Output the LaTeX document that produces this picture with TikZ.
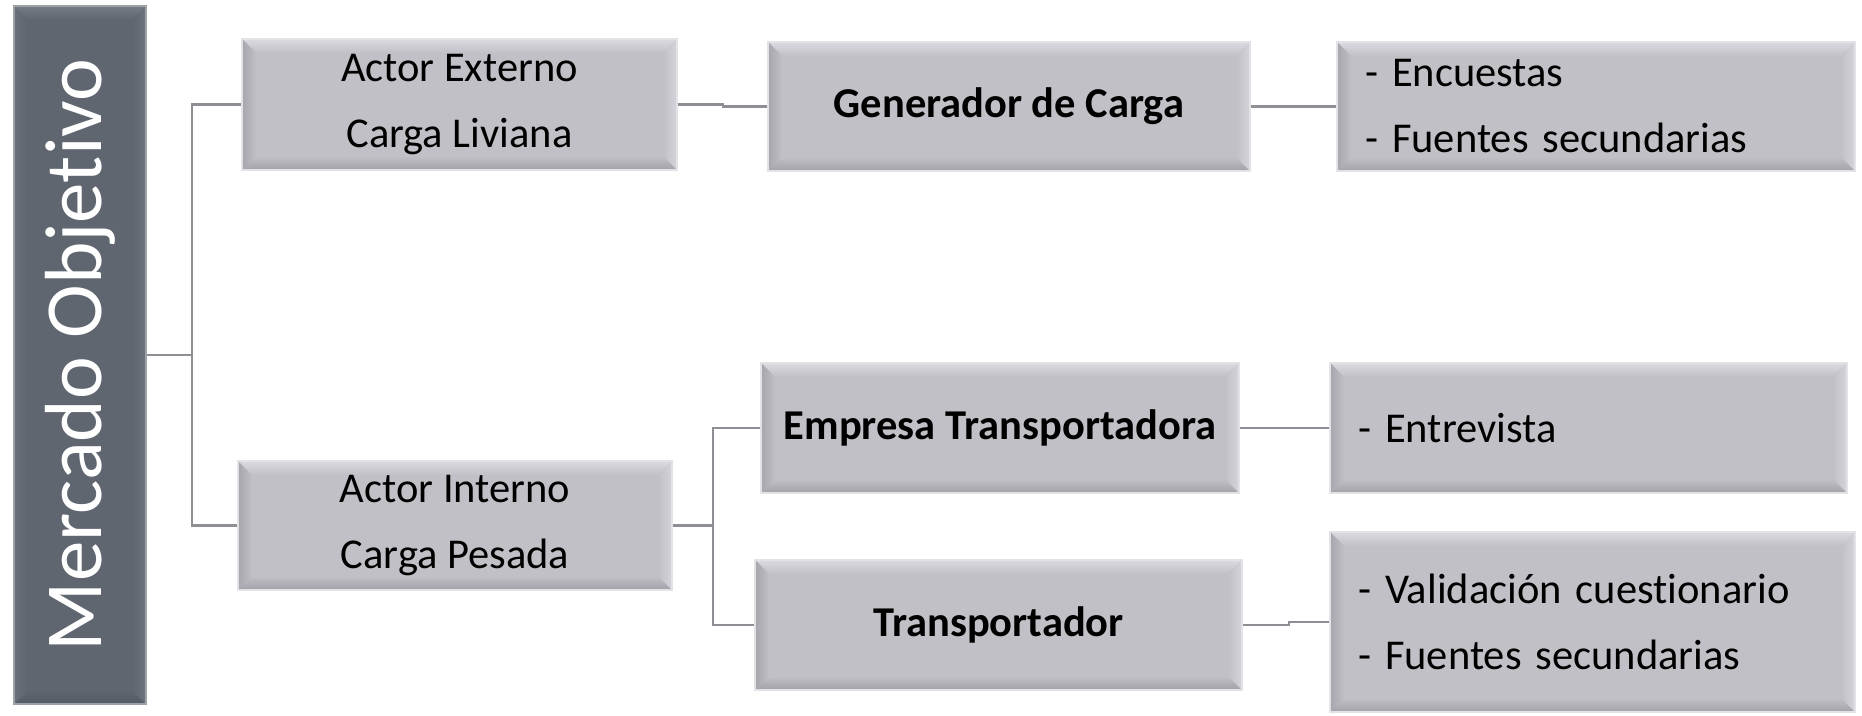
\documentclass[tikz,border=0pt]{standalone}
\usepackage{fontspec}
\setmainfont[Ligatures=NoCommon]{Carlito}
\definecolor{face}{HTML}{C1C0C6}
\definecolor{bevT}{HTML}{DADAE0}
\definecolor{bevL}{HTML}{A6A5AC}
\definecolor{bevB}{HTML}{A2A1A7}
\definecolor{bevR}{HTML}{D4D4DA}
\definecolor{rim}{HTML}{E2E2E7}
\definecolor{mface}{HTML}{5F6670}
\definecolor{mT}{HTML}{767C86}
\definecolor{mL}{HTML}{6A707A}
\definecolor{mB}{HTML}{555B64}
\definecolor{mR}{HTML}{6E747D}
\definecolor{mrim}{HTML}{9DA2A9}
\definecolor{conn}{HTML}{8E8E94}
\tikzset{
  bevel/.style n args={6}{fill=#1, draw=#6, line width=1.6pt, inner sep=0pt,
    path picture={
      \def\bvw{14pt}
      \coordinate (pnw) at (path picture bounding box.north west);
      \coordinate (pne) at (path picture bounding box.north east);
      \coordinate (psw) at (path picture bounding box.south west);
      \coordinate (pse) at (path picture bounding box.south east);
      \shade[top color=#2, bottom color=#1] (pnw) -- (pne) -- ([xshift=-\bvw,yshift=-\bvw]pne) -- ([xshift=\bvw,yshift=-\bvw]pnw) -- cycle;
      \shade[top color=#1, bottom color=#4] (psw) -- (pse) -- ([xshift=-\bvw,yshift=\bvw]pse) -- ([xshift=\bvw,yshift=\bvw]psw) -- cycle;
      \shade[left color=#3, right color=#1] (pnw) -- (psw) -- ([xshift=\bvw,yshift=\bvw]psw) -- ([xshift=\bvw,yshift=-\bvw]pnw) -- cycle;
      \shade[left color=#1, right color=#5] (pne) -- (pse) -- ([xshift=-\bvw,yshift=\bvw]pse) -- ([xshift=-\bvw,yshift=-\bvw]pne) -- cycle;
    }},
  graybox/.style={bevel={face}{bevT}{bevL}{bevB}{bevR}{rim}, align=center,
    font=\fontsize{42.5}{66}\selectfont, text=black},
  boldbox/.style={graybox, font=\fontsize{42.5}{66}\selectfont\bfseries},
  listbox/.style={graybox, align=left, inner xsep=28pt},
  mainbox/.style={bevel={mface}{mT}{mL}{mB}{mR}{mrim}, text=white,
    font=\fontsize{81}{90}\selectfont},
  link/.style={draw=conn, line width=2.6pt}
}
\begin{document}
\begin{tikzpicture}[x=1pt,y=-1pt]
\useasboundingbox (0,0) rectangle (1862,715);
\node[mainbox, minimum width=132pt, minimum height=698pt] (M) at (80,355) {\rotatebox{90}{Mercado Objetivo}};
\node[graybox, minimum width=435pt, minimum height=131pt] (A) at (459.5,104.5) {Actor Externo\\Carga Liviana};
\node[boldbox, minimum width=482pt, minimum height=129pt] (B) at (1009,106.5) {Generador de Carga};
\node[listbox, text width=462pt, minimum height=129pt] (C) at (1596,106.5) {- Encuestas\\- Fuentes secundarias};
\node[graybox, minimum width=434pt, minimum height=129pt] (D) at (455,525.5) {Actor Interno\\Carga Pesada};
\node[boldbox, minimum width=478pt, minimum height=130pt] (E) at (1000,428) {Empresa Transportadora};
\node[listbox, text width=461pt, minimum height=130pt] (F) at (1588.5,428) {- Entrevista};
\node[boldbox, minimum width=487pt, minimum height=130pt] (G) at (998.5,625) {Transportador};
\node[listbox, text width=469pt, minimum height=180pt] (H) at (1592.5,622) {- Validación cuestionario\\- Fuentes secundarias};
\coordinate (j1) at (192,355);
\coordinate (j2) at (713,525.5);
\draw[link] (M.east) -- (j1);
\draw[link] (A.west) -| (j1) |- (D.west);
\draw[link] (A.east) -- ++(45,0) |- (B.west);
\draw[link] (B.east) -- (C.west);
\draw[link] (D.east) -- (j2);
\draw[link] (E.west) -| (j2) |- (G.west);
\draw[link] (E.east) -- (F.west);
\draw[link] (G.east) -- ++(46,0) |- (H.west);
\end{tikzpicture}
\end{document}
